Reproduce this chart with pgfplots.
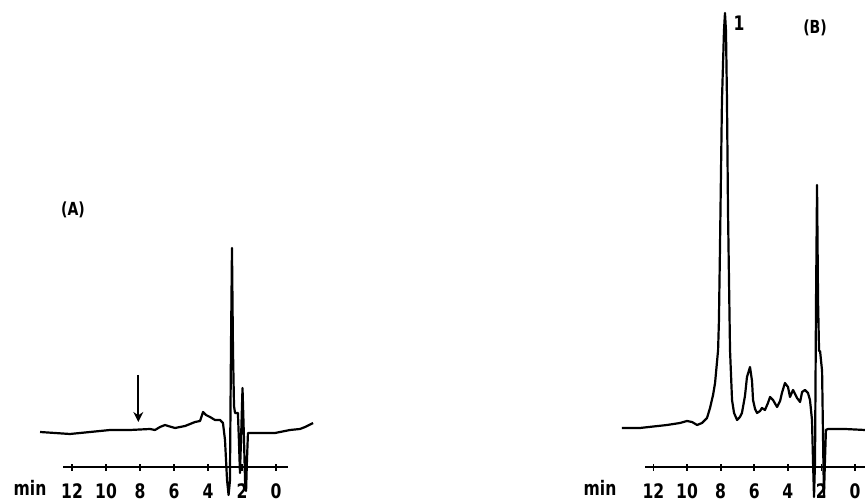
\documentclass[border=0pt]{standalone}
\usepackage{fontspec}
\setmainfont{DejaVu Sans}[FakeStretch=0.78]
\usepackage{pgfplots}
\pgfplotsset{compat=1.18}
\usetikzlibrary{arrows.meta}
\pgfplotstableread{
t y
13.88 69
13.00 68
12.12 67
10.94 69
9.76 71
8.59 71
7.41 72
7.12 71
6.82 74
6.53 76
6.35 75
5.94 73
5.35 75
4.76 79
4.47 80
4.29 89
4.12 86
3.88 84
3.59 81
3.29 81
3.12 78
3.00 61
2.88 21
2.79 6
2.71 20
2.65 150
2.59 253
2.53 150
2.47 95
2.41 88
2.24 88
2.18 60
2.12 28
2.06 60
1.97 113
1.88 60
1.82 20
1.76 10
1.71 40
1.65 68
0.94 68
0.06 68
-0.82 71
-1.41 72
-1.71 74
-2.18 78
}\dataA
\pgfplotstableread{
t y
13.87 73
12.80 73
11.19 76
10.42 78
10.00 80
9.70 79
9.40 76
9.11 78
8.81 83
8.63 93
8.45 106
8.33 118
8.15 151
8.10 180
8.04 250
7.92 400
7.80 470
7.74 488
7.68 470
7.62 400
7.56 290
7.44 151
7.32 101
7.20 88
7.02 81
6.85 84
6.73 88
6.55 105
6.43 124
6.25 134
6.13 120
6.07 101
5.95 92
5.83 88
5.65 90
5.54 93
5.36 91
5.18 98
5.06 104
4.88 101
4.64 94
4.46 100
4.35 108
4.17 118
3.99 114
3.87 104
3.69 111
3.45 103
3.27 99
3.15 109
2.98 111
2.80 108
2.68 101
2.56 81
2.50 40
2.44 4
2.38 40
2.32 200
2.26 316
2.20 200
2.14 150
2.08 150
2.02 140
1.96 130
1.90 60
1.85 4
1.79 40
1.73 71
1.61 72
0.60 72
-0.60 71
}\dataB
\begin{document}
\begin{tikzpicture}
\def\u{0.5pt}
\useasboundingbox (0,0) rectangle (432.5pt,250.5pt);
\pgfplotsset{
  chrom/.style={
    x=8.5pt, y=\u,
    x dir=reverse,
    axis x line*=bottom, axis y line=none,
    ymin=33.5, ymax=501,
    clip=false,
    xtick={0,2,...,12},
    tick align=center,
    major tick length=3.5pt,
    every tick/.style={black, line width=0.9pt},
    x axis line style={line width=1pt},
    /pgf/number format/assume math mode=true,
    xticklabel style={anchor=center, yshift=-10pt, font=\fontsize{10}{12}\selectfont\bfseries},
    anchor=south west,
  }
}
\begin{axis}[chrom, xmin=-0.7, xmax=12.5, at={(63.5*\u,33.5*\u)}]
\addplot[black, line width=1.1pt, line join=round] table[x=t,y=y] {\dataA};
\addplot[black, line width=1.2pt, -{Stealth[length=5pt,width=5pt]}] coordinates {(8.1,126) (8.1,79)};
\end{axis}
\begin{axis}[chrom, x=8.4pt, xmin=-0.59, xmax=12.5, at={(645*\u,33.5*\u)}]
\addplot[black, line width=1.1pt, line join=round] table[x=t,y=y] {\dataB};
\end{axis}
\node[font=\fontsize{10}{12}\selectfont\bfseries] at (30*\u,13.5*\u) {min};
\node[font=\fontsize{10}{12}\selectfont\bfseries] at (600*\u,13.5*\u) {min};
\node[font=\fontsize{9}{11}\selectfont\bfseries] at (73*\u,291*\u) {(A)};
\node[font=\fontsize{9}{11}\selectfont\bfseries] at (815*\u,473*\u) {(B)};
\node[font=\fontsize{10}{12}\selectfont\bfseries] at (739*\u,478*\u) {1};
\end{tikzpicture}
\end{document}
